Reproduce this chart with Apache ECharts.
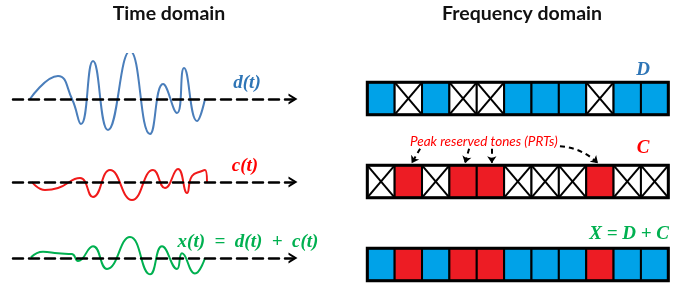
<!DOCTYPE html>
<html>
<head>
<meta charset="utf-8">
<script src="https://cdn.jsdelivr.net/npm/echarts@6.0.0/dist/echarts.min.js"></script>
<style>
  html, body { margin: 0; padding: 0; background: #fff; }
  #main { width: 689px; height: 293px; }
</style>
</head>
<body>
<div id="main"></div>
<script>
// ---- time domain waveforms (time, amplitude) ----
var dTime = [17, 45, 59, 68, 80, 95, 117, 137, 150, 164, 171, 184, 192];
var dAmp  = [0, 23, 0, -25, 38, -31, 48, -35, 15, -14, 31, -22, 0];

var cTime = [19, 32, 45, 67, 80, 97, 119, 140, 152, 165, 174, 179, 189, 192, 194];
var cAmp  = [0, -8, -6, 4, -15, 12, -18, 12, -6, 13, -11, 6, 11, 12, 0];

var xTime = [18, 30, 45, 59, 65, 80, 94, 117, 137, 149, 164, 169, 182, 192];
var xAmp  = [1, 8, 6, 5, -4, 15, -14, 27, -21, 15, -14, 6, -20, 0];

// ---- frequency domain tones ----
var toneKinds = ['none', 'data', 'prt'];
var dRow = ['data', 'none', 'data', 'none', 'none', 'data', 'data', 'data', 'none', 'data', 'data'];
var cRow = ['none', 'prt', 'none', 'prt', 'prt', 'none', 'none', 'none', 'prt', 'none', 'none'];
var xRow = ['data', 'prt', 'data', 'prt', 'prt', 'data', 'data', 'data', 'prt', 'data', 'data'];

// arrows from the PRT label down to the reserved tones (col, row units)
var prtArrowFrom = [[1.93, 0.80], [3.72, 0.80], [4.55, 0.80], [7.04, 0.77]];
var prtArrowTo   = [[1.62, 0.975], [3.57, 0.975], [4.55, 0.975], [8.43, 0.975]];

var CELL_H = 0.39;
var myChart = echarts.init(document.getElementById('main'));

function zip(a, b) {
	var out = [];
	for (var i = 0; i < a.length; i++) out.push([a[i], b[i]]);
	return out;
}

function cellData(rows) {
	var out = [];
	for (var r = 0; r < rows.length; r++) {
		for (var c = 0; c < rows[r].length; c++) {
			out.push([c, r, toneKinds.indexOf(rows[r][c])]);
		}
	}
	return out;
}

function renderCell(params, api) {
	var col = api.value(0), row = api.value(1), kind = api.value(2);
	var p0 = api.coord([col, row]);
	var p1 = api.coord([col + 1, row + CELL_H]);
	var w = p1[0] - p0[0], h = p1[1] - p0[1];
	var fill = kind === 1 ? '#00a2e8' : (kind === 2 ? '#ed1c24' : '#fff');
	var children = [{
		type: 'rect',
		shape: { x: p0[0], y: p0[1], width: w, height: h },
		style: { fill: fill, stroke: '#000', lineWidth: 2 }
	}];
	if (kind === 0) {
		children.push({ type: 'line', shape: { x1: p0[0], y1: p0[1], x2: p1[0], y2: p1[1] }, style: { stroke: '#000', lineWidth: 2 } });
		children.push({ type: 'line', shape: { x1: p1[0], y1: p0[1], x2: p0[0], y2: p1[1] }, style: { stroke: '#000', lineWidth: 2 } });
	}
	return { type: 'group', children: children };
}

function renderFrame(params, api) {
	var row = api.value(0);
	var p0 = api.coord([0, row]);
	var p1 = api.coord([dRow.length, row + CELL_H]);
	return {
		type: 'rect',
		shape: { x: p0[0], y: p0[1], width: p1[0] - p0[0], height: p1[1] - p0[1] },
		style: { fill: null, stroke: '#000', lineWidth: 3 }
	};
}

var chevron = 'path://M0,10 L6,0 L12,10 L9.6,10 L6,4.2 L2.4,10 Z';
var waveCenters = [99, 182, 268];
var grids = [], xAxes = [], yAxes = [];
for (var i = 0; i < 3; i++) {
	grids.push({ left: 13, width: 280, top: waveCenters[i] - 45, height: 90 });
	xAxes.push({
		gridIndex: i, type: 'value', min: 0, max: 280, z: 5,
		axisLine: { show: true, onZero: true, symbol: ['none', chevron], symbolSize: [11, 9],
			lineStyle: { color: '#000', width: 2.5, type: [10, 6] } },
		axisTick: { show: false }, axisLabel: { show: false }, splitLine: { show: false }
	});
	yAxes.push({ gridIndex: i, type: 'value', min: -45, max: 45, show: false });
}
// frequency domain grid: x = tone index, y = row
grids.push({ left: 367.3, width: 301, top: 82.3, height: 199.2 });
xAxes.push({ gridIndex: 3, type: 'value', min: 0, max: 11, show: false });
yAxes.push({ gridIndex: 3, type: 'value', min: 0, max: 2.4, inverse: true, show: false });

var arrowData = [];
for (var k = 0; k < prtArrowFrom.length; k++) {
	arrowData.push({
		coords: [prtArrowFrom[k], prtArrowTo[k]],
		lineStyle: { curveness: k === 3 ? 0.18 : 0 }
	});
}

function waveStyle(color) {
	return { color: color, width: 2 };
}

function label(text, x, y, color, align) {
	return {
		type: 'text', x: x, y: y,
		style: {
			text: text, fill: color, align: align || 'center', verticalAlign: 'middle',
			fontFamily: '"Liberation Serif", "DejaVu Serif", serif',
			fontStyle: 'italic', fontWeight: 'bold', fontSize: 19
		}
	};
}

function title(text, x) {
	return {
		type: 'text', x: x, y: 14,
		style: { text: text, fill: '#111', align: 'center', verticalAlign: 'middle',
			fontFamily: 'Lato, sans-serif', fontWeight: 'bold', fontSize: 19.5 }
	};
}

var option = {
	animation: false,
	grid: grids,
	xAxis: xAxes,
	yAxis: yAxes,
	graphic: [
		title('Time domain', 169),
		title('Frequency domain', 522),
		label('d(t)', 247, 83, '#2e75b6'),
		label('c(t)', 245, 166, '#ff0000'),
		label('x(t)  =  d(t)  +  c(t)', 248, 242, '#00b050'),
		label('D', 643, 70, '#2e75b6'),
		label('C', 643, 148, '#ff0000'),
		label('X = D + C', 669, 234, '#00b050', 'right'),
		{ type: 'text', x: 410, y: 142, style: { text: 'Peak reserved tones (PRTs)', fill: '#ff0000', align: 'left', verticalAlign: 'middle',
			fontFamily: 'Lato, sans-serif', fontStyle: 'italic', fontSize: 13.5 } }
	],
	series: [
		{ type: 'line', xAxisIndex: 0, yAxisIndex: 0, data: zip(dTime, dAmp), smooth: 0.5, showSymbol: false, lineStyle: waveStyle('#4a7ebb') },
		{ type: 'line', xAxisIndex: 1, yAxisIndex: 1, data: zip(cTime, cAmp), smooth: 0.5, showSymbol: false, lineStyle: waveStyle('#f01a1a') },
		{ type: 'line', xAxisIndex: 2, yAxisIndex: 2, data: zip(xTime, xAmp), smooth: 0.5, showSymbol: false, lineStyle: waveStyle('#00b050') },
		{ type: 'custom', xAxisIndex: 3, yAxisIndex: 3, renderItem: renderCell, data: cellData([dRow, cRow, xRow]) },
		{ type: 'custom', xAxisIndex: 3, yAxisIndex: 3, renderItem: renderFrame, data: [[0], [1], [2]], z: 3 },
		{
			type: 'lines', coordinateSystem: 'cartesian2d', xAxisIndex: 3, yAxisIndex: 3,
			symbol: ['none', 'arrow'], symbolSize: 7,
			lineStyle: { color: '#000', width: 2, type: [5, 4], opacity: 1 },
			data: arrowData
		}
	]
};
myChart.setOption(option);
</script>
</body>
</html>
